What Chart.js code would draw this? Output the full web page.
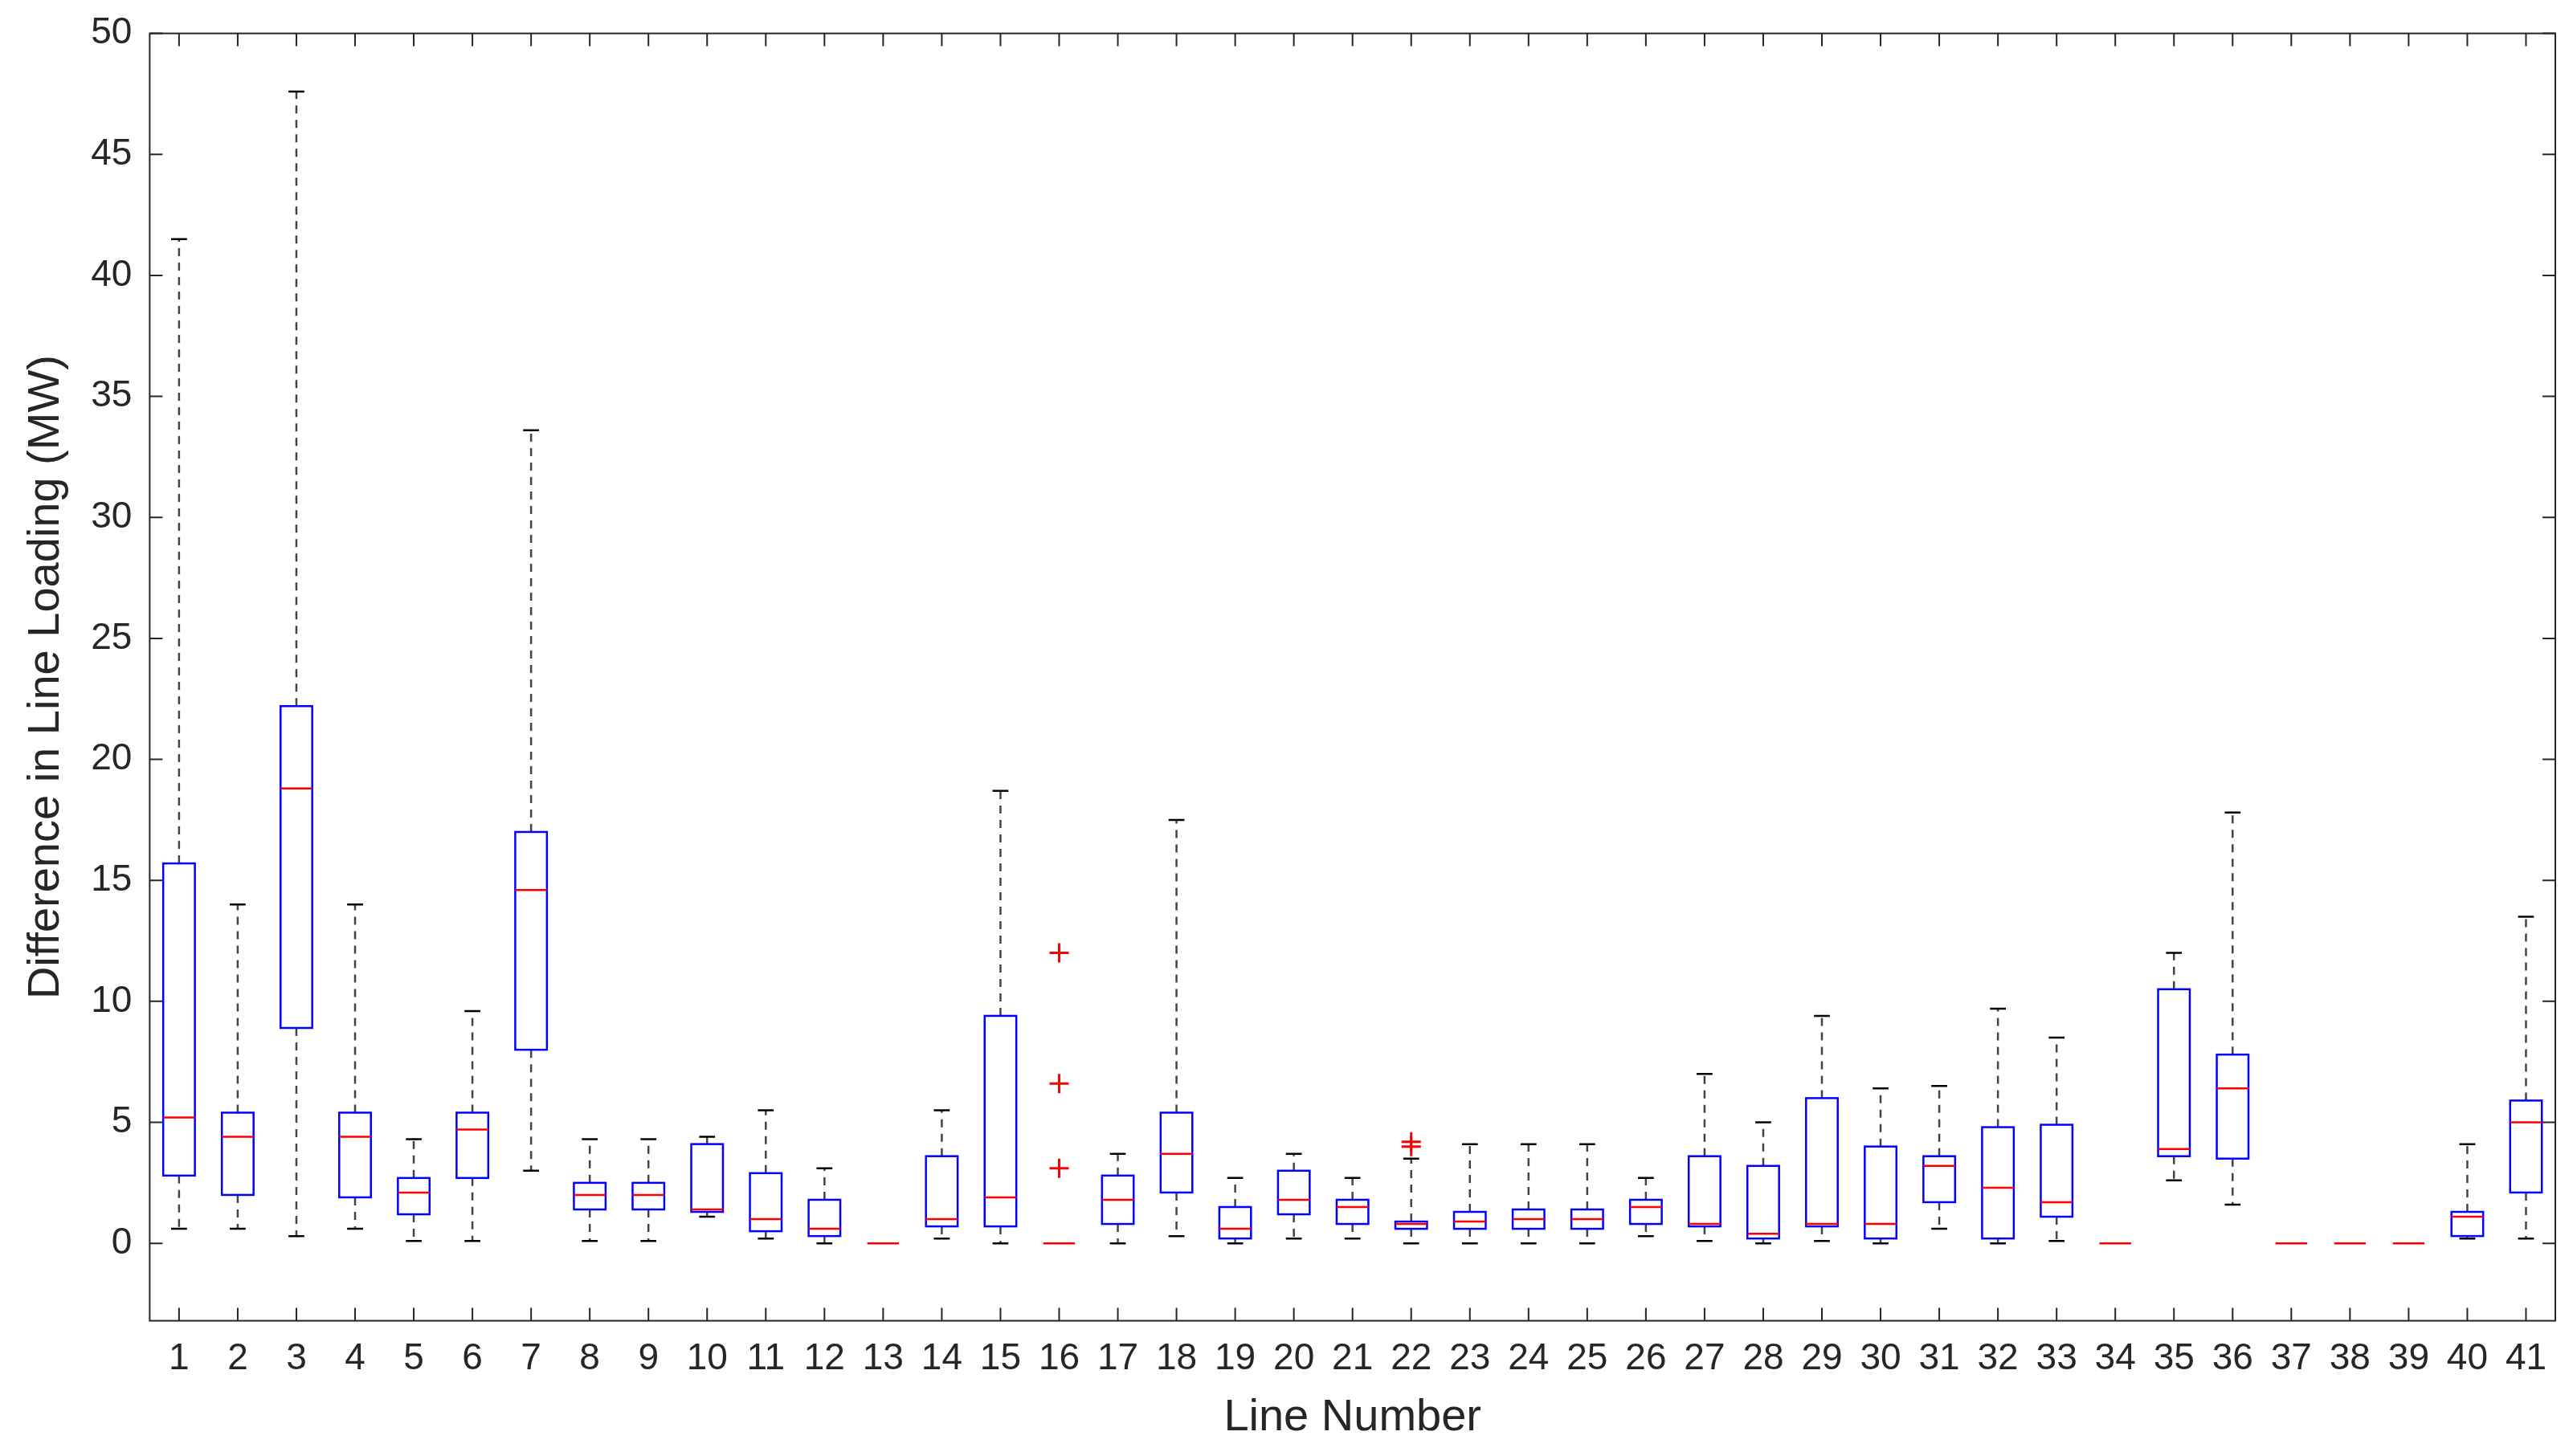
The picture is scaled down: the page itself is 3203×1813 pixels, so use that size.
<!DOCTYPE html>
<html><head><meta charset="utf-8">
<script src="https://cdn.jsdelivr.net/npm/chart.js@4"></script>
<style>html,body{margin:0;background:#fff}#w{width:3203px;height:1813px}</style>
</head><body><div id="w"><canvas id="c"></canvas></div>
<script>
const categories = Array.from({length:41},(_,i)=>String(i+1));
const mins =   [0.6,0.6,0.3,0.6,0.1,0.1,3.0,0.1,0.1,1.1,0.2,0,0,0.2,0,0,0,0.3,0,0.2,0.2,0,0,0,0,0.3,0.1,0,0.1,0,0.6,0,0.1,0,2.6,1.6,0,0,0,0.2,0.2];
const q1s =    [2.8,2.0,8.9,1.9,1.2,2.7,8.0,1.4,1.4,1.3,0.5,0.3,0,0.7,0.7,0,0.8,2.1,0.2,1.2,0.8,0.6,0.6,0.6,0.6,0.8,0.7,0.2,0.7,0.2,1.7,0.2,1.1,0,3.6,3.5,0,0,0,0.3,2.1];
const medians= [5.2,4.4,18.8,4.4,2.1,4.7,14.6,2.0,2.0,1.4,1.0,0.6,0,1.0,1.9,0,1.8,3.7,0.6,1.8,1.5,0.8,0.9,1.0,1.0,1.5,0.8,0.4,0.8,0.8,3.2,2.3,1.7,0,3.9,6.4,0,0,0,1.1,5.0];
const q3s =    [15.7,5.4,22.2,5.4,2.7,5.4,17.0,2.5,2.5,4.1,2.9,1.8,0,3.6,9.4,0,2.8,5.4,1.5,3.0,1.8,0.9,1.3,1.4,1.4,1.8,3.6,3.2,6.0,4.0,3.6,4.8,4.9,0,10.5,7.8,0,0,0,1.3,5.9];
const maxs =   [41.5,14,47.6,14,4.3,9.6,33.6,4.3,4.3,4.4,5.5,3.1,0,5.5,18.7,0,3.7,17.5,2.7,3.7,2.7,3.5,4.1,4.1,4.1,2.7,7.0,5.0,9.4,6.4,6.5,9.7,8.5,0,12.0,17.8,0,0,0,4.1,13.5];
const outliers = [{x:'16',y:3.1},{x:'16',y:6.6},{x:'16',y:12.0},{x:'22',y:4.0},{x:'22',y:4.2}];
const yTicks = [0,5,10,15,20,25,30,35,40,45,50];

const boxPlugin = {
  id:'box',
  afterDatasetsDraw(chart){
    const ctx=chart.ctx, x=chart.scales.x, y=chart.scales.y, a=chart.chartArea;
    const half = (x.getPixelForValue(1)-x.getPixelForValue(0))*0.27;
    const cap = half*0.5;
    ctx.save();
    categories.forEach((c,i)=>{
      const cx=x.getPixelForValue(i);
      ctx.lineWidth=2.5;
      ctx.strokeStyle='#444';
      ctx.setLineDash([10,8]);
      ctx.beginPath();
      if(maxs[i]>q3s[i]){ctx.moveTo(cx,y.getPixelForValue(q3s[i]));ctx.lineTo(cx,y.getPixelForValue(maxs[i]));}
      if(mins[i]<q1s[i]){ctx.moveTo(cx,y.getPixelForValue(q1s[i]));ctx.lineTo(cx,y.getPixelForValue(mins[i]));}
      ctx.stroke();
      ctx.setLineDash([]);
      ctx.strokeStyle='#000';
      ctx.beginPath();
      if(maxs[i]>q3s[i]){ctx.moveTo(cx-cap,y.getPixelForValue(maxs[i]));ctx.lineTo(cx+cap,y.getPixelForValue(maxs[i]));}
      if(mins[i]<q1s[i]){ctx.moveTo(cx-cap,y.getPixelForValue(mins[i]));ctx.lineTo(cx+cap,y.getPixelForValue(mins[i]));}
      ctx.stroke();
      ctx.strokeStyle='#0000ff';
      const t=y.getPixelForValue(q3s[i]), b=y.getPixelForValue(q1s[i]);
      if(q3s[i]>q1s[i]) ctx.strokeRect(cx-half,t,2*half,b-t);
      ctx.strokeStyle='#ff0000';
      ctx.beginPath();
      const m=y.getPixelForValue(medians[i]);
      ctx.moveTo(cx-half,m);ctx.lineTo(cx+half,m);ctx.stroke();
    });
    // frame and inward ticks
    ctx.strokeStyle='#262626';ctx.lineWidth=2;
    ctx.strokeRect(a.left,a.top,a.right-a.left,a.bottom-a.top);
    ctx.beginPath();
    yTicks.forEach(v=>{const p=y.getPixelForValue(v);ctx.moveTo(a.left,p);ctx.lineTo(a.left+16,p);ctx.moveTo(a.right,p);ctx.lineTo(a.right-16,p);});
    categories.forEach((c,i)=>{const p=x.getPixelForValue(i);ctx.moveTo(p,a.bottom);ctx.lineTo(p,a.bottom-16);ctx.moveTo(p,a.top);ctx.lineTo(p,a.top+16);});
    ctx.stroke();
    ctx.restore();
  }
};

new Chart(document.getElementById('c'),{
  data:{labels:categories,datasets:[
    {type:'scatter',data:outliers,pointStyle:'cross',radius:12,borderColor:'#ff0000',borderWidth:3}
  ]},
  options:{
    responsive:true,maintainAspectRatio:false,animation:false,
    layout:{padding:{top:30,right:22,left:20,bottom:10}},
    plugins:{legend:{display:false},tooltip:{enabled:false}},
    scales:{
      x:{type:'category',offset:true,grid:{display:false},border:{display:false},
         ticks:{color:'#262626',font:{family:'Liberation Sans, Arial',size:46},maxRotation:0,autoSkip:false,padding:12},
         title:{display:true,text:'Line Number',color:'#262626',font:{family:'Liberation Sans, Arial',size:56},padding:{top:0}}},
      y:{type:'linear',min:-3.2,max:50,grid:{display:false},border:{display:false},
         afterBuildTicks(s){s.ticks=yTicks.map(v=>({value:v}));},
         ticks:{color:'#262626',font:{family:'Liberation Sans, Arial',size:46},padding:14},
         title:{display:true,text:'Difference in Line Loading (MW)',color:'#262626',font:{family:'Liberation Sans, Arial',size:56},padding:{bottom:8}}}
    }
  },
  plugins:[boxPlugin]
});
</script></body></html>
